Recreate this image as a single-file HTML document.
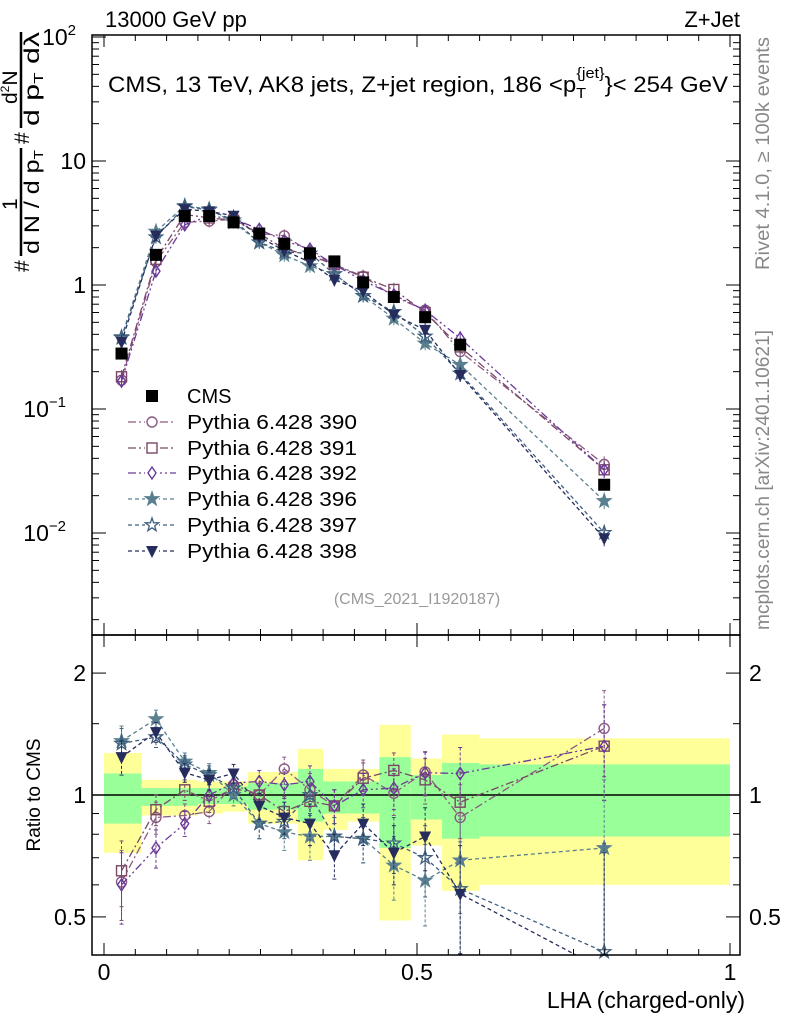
<!DOCTYPE html>
<html><head><meta charset="utf-8"><style>
body{margin:0;background:#fff;}
svg{display:block;font-family:"Liberation Sans",sans-serif;}
</style></head><body>
<svg id="chart" width="786" height="1024" viewBox="0 0 786 1024">
<g id="bands"></g>
<g id="series"></g>
<rect x="92" y="35" width="648" height="600" fill="none" stroke="#000" stroke-width="1.5"/>
<rect x="92" y="635" width="648" height="320" fill="none" stroke="#000" stroke-width="1.5"/>
<g id="ticks" stroke="#000" stroke-width="1"></g>
<text x="105" y="27" font-size="22">13000 GeV pp</text>
<text x="740" y="27" font-size="22" text-anchor="end">Z+Jet</text>
<text x="108" y="92" font-size="22" textLength="620" lengthAdjust="spacingAndGlyphs">CMS, 13 TeV, AK8 jets, Z+jet region, 186 &lt;p<tspan font-size="15" dy="6">T</tspan><tspan font-size="15" dx="-9" dy="-20">{jet}</tspan><tspan dy="14">}&lt; 254 GeV</tspan></text>
<text x="417" y="604" font-size="16" fill="#999" text-anchor="middle">(CMS_2021_I1920187)</text>
<text transform="translate(769,270) rotate(-90)" font-size="19" fill="#888" textLength="233" lengthAdjust="spacingAndGlyphs">Rivet 4.1.0, ≥ 100k events</text>
<text transform="translate(769,630) rotate(-90)" font-size="19" fill="#888" textLength="300" lengthAdjust="spacingAndGlyphs">mcplots.cern.ch [arXiv:2401.10621]</text>
<g transform="translate(21,272) rotate(-90)" font-size="21">
  <text x="0" y="8">#</text>
  <line x1="16" y1="0" x2="124" y2="0" stroke="#000" stroke-width="2.5"/>
  <text x="62" y="-4">1</text>
  <text x="18" y="18" textLength="104" lengthAdjust="spacingAndGlyphs">d N / d p<tspan font-size="13" dy="4">T</tspan></text>
  <text x="128" y="8">#</text>
  <line x1="144" y1="0" x2="240" y2="0" stroke="#000" stroke-width="2.5"/>
  <text x="168" y="-4">d<tspan font-size="12" dy="-8">2</tspan><tspan dy="8">N</tspan></text>
  <text x="146" y="18" textLength="94" lengthAdjust="spacingAndGlyphs">d p<tspan font-size="13" dy="4">T</tspan><tspan dy="-4"> dλ</tspan></text>
</g>
<text transform="translate(40,795) rotate(-90)" font-size="19" text-anchor="middle">Ratio to CMS</text>
<text x="745" y="1008" font-size="23" text-anchor="end">LHA (charged-only)</text>
<g id="legend"></g>
</svg>
<script>
const binEdges=[0,0.06,0.11,0.15,0.19,0.23,0.27,0.31,0.35,0.39,0.44,0.49,0.54,0.60,1.0];
const xCenters=[0.028,0.083,0.129,0.168,0.207,0.248,0.288,0.329,0.368,0.414,0.463,0.513,0.569,0.799];
const cmsValues=[0.28,1.75,3.6,3.6,3.2,2.6,2.15,1.8,1.55,1.05,0.8,0.55,0.33,0.0245];
const yellowHi=[1.27,1.09,1.09,1.08,1.08,1.14,1.14,1.30,1.16,1.16,1.49,1.23,1.41,1.38];
const yellowLo=[0.72,0.89,0.89,0.90,0.91,0.85,0.85,0.69,0.82,0.86,0.49,0.75,0.58,0.60];
const greenHi=[1.13,1.04,1.04,1.04,1.05,1.07,1.07,1.16,1.08,1.08,1.24,1.12,1.20,1.19];
const greenLo=[0.85,0.94,0.94,0.95,0.95,0.92,0.92,0.86,0.90,0.90,0.74,0.87,0.78,0.79];
const ratio390=[0.61,0.88,0.89,0.91,1.06,1.00,1.16,1.03,0.94,1.12,1.01,1.14,0.88,1.46];
const ratio391=[0.65,0.92,1.03,0.965,1.04,1.00,0.91,0.965,0.94,1.10,1.15,1.09,0.96,1.32];
const ratio392=[0.60,0.74,0.85,1.00,1.07,1.08,1.06,1.08,0.94,1.03,1.04,1.135,1.13,1.32];
const ratio396=[1.36,1.54,1.21,1.135,1.00,0.85,0.81,0.79,0.79,0.78,0.67,0.615,0.69,0.74];
const ratio397=[1.34,1.39,1.19,1.12,1.04,0.85,0.86,1.00,0.79,0.78,0.76,0.70,0.586,0.41];
const ratio398=[1.24,1.43,1.135,1.09,1.13,0.94,0.88,0.85,0.71,0.85,0.72,0.79,0.57,0.37];
const ratioErr=[0.12,0.08,0.06,0.06,0.06,0.07,0.08,0.1,0.09,0.1,0.12,0.14,0.18,0.35];
const xTicks=["0","0.5","1"];
const NS="http://www.w3.org/2000/svg";
function X(v){return 104+626*v;}
function Ym(v){return 37+124*(2-Math.log10(v));}
function Yr(v){return 795-405*Math.log10(v);}
function mk(tag,attrs,parent){const e=document.createElementNS(NS,tag);for(const k in attrs)e.setAttribute(k,attrs[k]);parent.appendChild(e);return e;}
const svg=document.getElementById('chart');
const defs=mk('defs',{},svg);const cp=mk('clipPath',{id:'rclip'},defs);mk('rect',{x:92,y:635,width:648,height:320},cp);
const bands=document.getElementById('bands');
for(let i=0;i<binEdges.length-1;i++){
  const x0=X(binEdges[i]),x1=X(binEdges[i+1]);
  const yb=mk('rect',{x:x0,y:Yr(yellowHi[i]),width:x1-x0,height:Yr(yellowLo[i])-Yr(yellowHi[i]),fill:'#ffff99'},bands);
  
  
  const gb=mk('rect',{x:x0,y:Yr(greenHi[i]),width:x1-x0,height:Yr(greenLo[i])-Yr(greenHi[i]),fill:'#99ff99'},bands);
  
  
}
const ref=mk('line',{x1:92,x2:740,y1:Yr(1),y2:Yr(1),stroke:'#000','stroke-width':1.5},bands);


const T=document.getElementById('ticks');
for(let k=0;k<=20;k++){const v=k*0.05,x=X(v),big=k%10===0?12:6;
  mk('line',{x1:x,x2:x,y1:635,y2:635-big},T);mk('line',{x1:x,x2:x,y1:35,y2:35+big},T);
  mk('line',{x1:x,x2:x,y1:955,y2:955-big},T);mk('line',{x1:x,x2:x,y1:635,y2:635+big},T);}
for(let d=-3;d<2;d++)for(let m=1;m<10;m++){const v=m*Math.pow(10,d),y=Ym(v);if(y<35||y>635)continue;const l=m===1?14:7;
  mk('line',{x1:92,x2:92+l,y1:y,y2:y},T);mk('line',{x1:740,x2:740-l,y1:y,y2:y},T);}
mk('line',{x1:92,x2:106,y1:Ym(100),y2:Ym(100)},T);
for(const v of [0.5,0.6,0.7,0.8,0.9,1,1.5,2]){const y=Yr(v);if(y<635)continue;const l=(v===0.5||v===1||v===2)?14:7;
  mk('line',{x1:92,x2:92+l,y1:y,y2:y},T);mk('line',{x1:740,x2:740-l,y1:y,y2:y},T);}
const ml=[[100,'10','2'],[10,'10',''],[1,'1',''],[0.1,'10','−1'],[0.01,'10','−2']];
ml.forEach(a=>{const t=mk('text',{x:86,y:Ym(a[0])+8,'font-size':23,'text-anchor':'end'},svg);
  
  
  t.textContent=a[1];if(a[2]){t.setAttribute('x',a[2].length>1?66:76);const s=mk('tspan',{'font-size':15,dy:-10},t);s.textContent=a[2];}});
[[2,'2'],[1,'1'],[0.5,'0.5']].forEach(a=>{
  const t=mk('text',{x:86,y:Yr(a[0])+8,'font-size':23,'text-anchor':'end'},svg);t.textContent=a[1];
  
  
  const t2=mk('text',{x:749,y:Yr(a[0])+8,'font-size':23},svg);t2.textContent=a[1];
  
  });
xTicks.forEach((s,i)=>{const t=mk('text',{x:X(i*0.5),y:980,'font-size':23,'text-anchor':'middle'},svg);t.textContent=s;
  
  });
const series=[
 {n:'390',r:ratio390,c:'#8b5a82',m:'circle',d:'8,3,2,3'},
 {n:'391',r:ratio391,c:'#7a4866',m:'square',d:'8,3,2,3'},
 {n:'392',r:ratio392,c:'#6a3a9a',m:'diamond',d:'8,3,2,3,2,3'},
 {n:'396',r:ratio396,c:'#5a8090',m:'starf',d:'4,3'},
 {n:'397',r:ratio397,c:'#3f5f7f',m:'star',d:'4,3'},
 {n:'398',r:ratio398,c:'#262c5c',m:'tri',d:'4,3'}];
function marker(g,type,x,y,c){
  if(type==='circle')return mk('circle',{cx:x,cy:y,r:5,fill:'none',stroke:c,'stroke-width':1.4},g);
  if(type==='square')return mk('rect',{x:x-5,y:y-5,width:10,height:10,fill:'none',stroke:c,'stroke-width':1.4},g);
  if(type==='cms')return mk('rect',{x:x-6,y:y-6,width:12,height:12,fill:'#000'},g);
  if(type==='diamond')return mk('polygon',{points:`${x},${y-6} ${x+4},${y} ${x},${y+6} ${x-4},${y}`,fill:'none',stroke:c,'stroke-width':1.4},g);
  if(type==='tri')return mk('polygon',{points:`${x-6},${y-5} ${x+6},${y-5} ${x},${y+7}`,fill:c},g);
  let p=[];for(let k=0;k<10;k++){const a=-Math.PI/2+k*Math.PI/5,r=k%2?2.8:7;p.push((x+r*Math.cos(a)).toFixed(1)+','+(y+r*Math.sin(a)).toFixed(1));}
  return mk('polygon',{points:p.join(' '),fill:type==='starf'?c:'none',stroke:c,'stroke-width':1.3},g);
}
const S=document.getElementById('series');
series.forEach(s=>{
  const g=mk('g',{},S);
  
  
  const mp=[],rp=[];
  xCenters.forEach((xv,i)=>{mp.push([X(xv),Ym(cmsValues[i]*s.r[i])]);rp.push([X(xv),Yr(s.r[i])]);});
  mk('polyline',{points:mp.map(p=>p.join(',')).join(' '),fill:'none',stroke:s.c,'stroke-width':1.3,'stroke-dasharray':s.d},g);
  mk('polyline',{points:rp.map(p=>p.join(',')).join(' '),fill:'none',stroke:s.c,'stroke-width':1.3,'stroke-dasharray':s.d,'clip-path':'url(#rclip)'},g);
  xCenters.forEach((xv,i)=>{
    const v=s.r[i],e=ratioErr[i],x=X(xv);
    const y1=Math.max(636,Yr(v+e)),y2=Math.min(954,Yr(Math.max(0.05,v-e)));
    mk('line',{x1:x,x2:x,y1:y1,y2:y2,stroke:s.c,'stroke-width':1,'stroke-dasharray':'3,2'},g);
    mk('line',{x1:x-2,x2:x+2,y1:y1,y2:y1,stroke:s.c},g);mk('line',{x1:x-2,x2:x+2,y1:y2,y2:y2,stroke:s.c},g);
    const pm=Ym(cmsValues[i]*v);mk('line',{x1:x,x2:x,y1:pm-6*(1+e),y2:pm+6*(1+e),stroke:s.c},g);
    marker(g,s.m,x,pm,s.c);
    if(rp[i][1]<955)marker(g,s.m,x,rp[i][1],s.c);
  });
});
const cg=mk('g',{},S);


xCenters.forEach((xv,i)=>marker(cg,'cms',X(xv),Ym(cmsValues[i]),'#000'));
const L=document.getElementById('legend');
const ly=[396,422,448,473,499,525,551];
marker(L,'cms',152,ly[0],'#000');
const t0=mk('text',{x:187,y:ly[0]+7,'font-size':20},L);t0.textContent='CMS';
series.forEach((s,i)=>{const y=ly[i+1];
  const e=mk('g',{},L);
  
  
  mk('line',{x1:128,x2:176,y1:y,y2:y,stroke:s.c,'stroke-width':1.3,'stroke-dasharray':s.d},e);
  mk('rect',{x:145,y:y-7,width:14,height:14,fill:'#fff'},e);
  marker(e,s.m,152,y,s.c);
  const t=mk('text',{x:187,y:y+7,'font-size':20,textLength:170,lengthAdjust:'spacingAndGlyphs'},e);t.textContent='Pythia 6.428 '+s.n;});
</script>
</body></html>
